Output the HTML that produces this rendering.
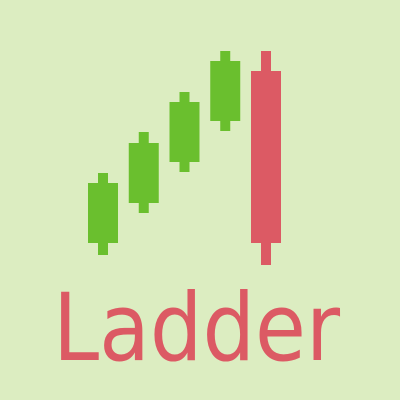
<!DOCTYPE html>
<html><head><meta charset="utf-8"><style>
html,body{margin:0;padding:0;background:#dcedc1;}
svg{display:block}
</style></head><body>
<svg id="chart" width="400" height="400" viewBox="0 0 400 400" xmlns="http://www.w3.org/2000/svg">
<rect x="0" y="0" width="400" height="400" fill="#dcedc1"/>
<g id="candles"></g>
<text x="53" y="360" font-family="'DejaVu Sans','Liberation Sans',sans-serif" font-size="94" fill="#dc5a64" textLength="287" lengthAdjust="spacingAndGlyphs">Ladder</text>
</svg>
<script>
const categories = ["c1","c2","c3","c4","c5"];
const openVals  = [57, 97, 138, 179, 229];
const closeVals = [117, 157, 198, 239, 57];
const highVals  = [127, 168, 208, 249, 249];
const lowVals   = [45, 87, 128, 169, 35];
const y = v => 300 - v;
const x = i => 88 + i * 40.75;
const bodyW = 30, wickW = 10;
const g = document.getElementById('candles');
const ns = 'http://www.w3.org/2000/svg';
categories.forEach((c, i) => {
  const up = closeVals[i] >= openVals[i];
  const col = up ? '#6abf2e' : '#dc5a64';
  const cx = x(i) + bodyW / 2;
  const w = document.createElementNS(ns, 'rect');
  
  
  w.setAttribute('x', cx - wickW / 2);
  w.setAttribute('y', y(highVals[i]));
  w.setAttribute('width', wickW);
  w.setAttribute('height', y(lowVals[i]) - y(highVals[i]));
  w.setAttribute('fill', col);
  g.appendChild(w);
  const b = document.createElementNS(ns, 'rect');
  
  
  const top = Math.max(openVals[i], closeVals[i]), bot = Math.min(openVals[i], closeVals[i]);
  b.setAttribute('x', x(i));
  b.setAttribute('y', y(top));
  b.setAttribute('width', bodyW);
  b.setAttribute('height', y(bot) - y(top));
  b.setAttribute('fill', col);
  g.appendChild(b);
});
</script>
</body></html>
